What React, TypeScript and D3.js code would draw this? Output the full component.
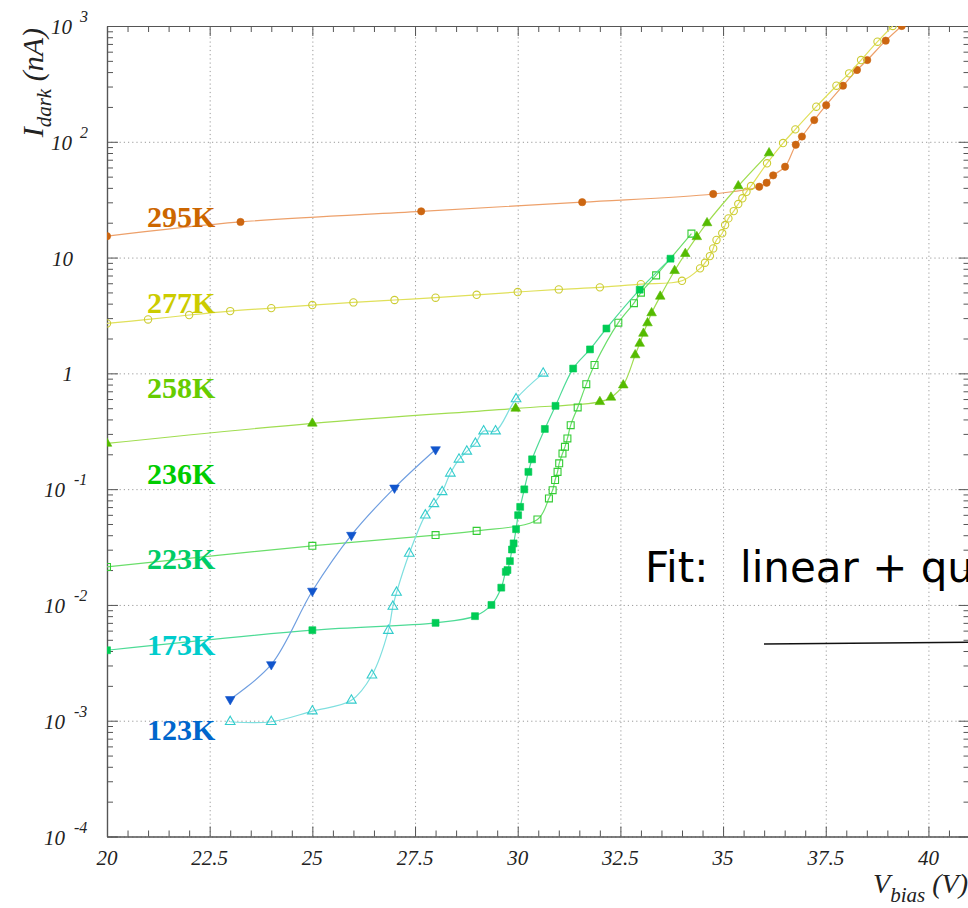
import React, { useEffect, useRef } from "react"
import * as d3 from "d3"

// temperature labels, top to bottom
const temps = ["295K", "277K", "258K", "236K", "223K", "173K", "123K"]
const labelColors = ["#cc6600", "#cccc00", "#66cc00", "#00cc00", "#00cc66", "#00cccc", "#0066cc"]
const lineColors = ["#eda06a", "#e0e05a", "#a0dd50", "#6ade6a", "#4ddb96", "#7fdfdf", "#6f9ee0"]
const markerColors = ["#cc6611", "#cccc33", "#55bb00", "#33cc33", "#00cc55", "#33cccc", "#1155cc"]
const markerKinds = ["circle", "openCircle", "triangle", "openSquare", "square", "openTriangle", "downTriangle"]

// V_bias (V) and I_dark (nA) per temperature
const v295 = [20, 23.25, 27.65, 31.57, 34.76, 35.88, 36.06, 36.22, 36.51, 36.77, 36.92, 37.22, 37.51, 37.92, 38.26, 38.51, 38.96, 39.35]
const i295 = [15.3, 20.3, 25.1, 30.1, 35.4, 40.9, 44.3, 51.3, 60.9, 94.3, 111, 154, 207, 305, 417, 508, 747, 1000]

const v277 = [20, 21, 22, 23, 24, 25, 26, 27, 28, 29, 30, 31, 32, 33, 34, 34.44, 34.56, 34.68, 34.76, 34.84, 34.98, 35.05, 35.13, 35.26, 35.37, 35.47, 35.57, 35.68, 36.07, 36.46, 36.76, 37.27, 37.76, 38.07, 38.36, 38.76, 39.13]
const i277 = [2.7, 2.92, 3.19, 3.45, 3.66, 3.89, 4.1, 4.3, 4.5, 4.77, 5.04, 5.31, 5.53, 5.9, 6.3, 8.07, 9.02, 10.3, 12.0, 14.2, 16.2, 19.1, 21.8, 25.2, 29.0, 32.5, 37.0, 41.5, 65.2, 97.5, 128, 201, 305, 390, 508, 732, 1000]

const v258 = [20, 25, 29.95, 32, 32.27, 32.57, 32.86, 32.97, 33.06, 33.16, 33.26, 33.47, 33.82, 34.08, 34.36, 34.61, 35.37, 36.12]
const i258 = [0.248, 0.37, 0.498, 0.568, 0.62, 0.791, 1.44, 1.81, 2.21, 2.72, 3.32, 4.62, 7.69, 10.8, 15.1, 19.9, 41.5, 80.0]

const v236 = [20, 25, 28, 29, 30.48, 30.76, 30.85, 30.91, 30.97, 31.01, 31.09, 31.15, 31.21, 31.29, 31.46, 31.67, 31.87, 32.45, 32.83, 33.0, 33.37, 34.23]
const i236 = [0.0213, 0.0324, 0.0401, 0.0436, 0.0547, 0.0832, 0.098, 0.12, 0.141, 0.167, 0.203, 0.232, 0.274, 0.357, 0.508, 0.807, 1.18, 2.74, 4.04, 4.98, 7.02, 16.1]

const v223 = [20, 25, 28, 28.96, 29.36, 29.6, 29.71, 29.75, 29.81, 29.86, 29.9, 29.96, 30.01, 30.06, 30.16, 30.26, 30.35, 30.66, 30.92, 31.35, 31.76, 32.16, 32.97, 33.72]
const i223 = [0.00406, 0.00605, 0.007, 0.008, 0.01, 0.0141, 0.0193, 0.02, 0.0239, 0.0301, 0.034, 0.0451, 0.0596, 0.0703, 0.0996, 0.141, 0.181, 0.331, 0.524, 1.1, 1.61, 2.44, 5.28, 9.78]

const v173 = [23, 24, 25, 25.95, 26.45, 26.85, 26.96, 27.05, 27.36, 27.75, 27.96, 28.16, 28.36, 28.57, 28.76, 28.97, 29.17, 29.46, 29.96, 30.62]
const i173 = [0.00098, 0.00098, 0.00121, 0.0015, 0.00247, 0.006, 0.0097, 0.0128, 0.0278, 0.0596, 0.0746, 0.0948, 0.137, 0.181, 0.212, 0.248, 0.317, 0.317, 0.601, 1.0]

const v123 = [23, 24, 25, 25.95, 27, 28]
const i123 = [0.00153, 0.00306, 0.0132, 0.0401, 0.1026, 0.22]

const voltages = [v295, v277, v258, v236, v223, v173, v123]
const currents = [i295, i277, i258, i236, i223, i173, i123]

const xMajor = [20, 22.5, 25, 27.5, 30, 32.5, 35, 37.5, 40]
const yExponents = [-4, -3, -2, -1, 0, 1, 2, 3]

const W = 968
const H = 908
const serif = "'Liberation Serif', 'Times New Roman', serif"

const App = () => {
  const ref = useRef<SVGSVGElement>(null)

  useEffect(() => {
    document.body.style.margin = "0"
    const svg = d3.select(ref.current)
    svg.selectAll("*").remove()

    const x = d3.scaleLinear().domain([20, 41]).range([107, 969.5])
    const y = d3.scaleLog().domain([1e-4, 1e3]).range([836.5, 26])
    const [x0, x1] = x.range()
    const [y0, y1] = y.range()

    const xMinor = d3.range(20, 41.01, 0.5).filter((v) => !xMajor.includes(v))
    const yMajor = yExponents.map((e) => Math.pow(10, e))
    const yMinor: number[] = []
    yExponents.slice(0, -1).forEach((e) => {
      for (let k = 2; k <= 9; k++) yMinor.push(k * Math.pow(10, e))
    })

    svg.append("defs").append("clipPath").attr("id", "plotclip")
      .append("rect").attr("x", x0).attr("y", y1).attr("width", x1 - x0).attr("height", y0 - y1)

    // grid
    const grid = svg.append("g")
    grid.append("g").attr("transform", `translate(0,${y0})`)
      .call(d3.axisBottom(x).tickValues(xMajor).tickSize(-(y0 - y1)).tickFormat(() => ""))
    grid.append("g").attr("transform", `translate(${x0},0)`)
      .call(d3.axisLeft(y).tickValues(yMajor).tickSize(-(x1 - x0)).tickFormat(() => ""))
    grid.selectAll(".domain").remove()
    grid.selectAll("line").attr("stroke", "#9a9a9a").attr("stroke-width", 1).attr("stroke-dasharray", "1.2 3")

    // ticks on all four sides
    const axes = svg.append("g")
    const addAxis = (axis: any, tr: string) => axes.append("g").attr("transform", tr).call(axis.tickSizeOuter(0).tickFormat(() => ""))
    addAxis(d3.axisBottom(x).tickValues(xMajor).tickSize(-10), `translate(0,${y0})`)
    addAxis(d3.axisBottom(x).tickValues(xMinor).tickSize(-6), `translate(0,${y0})`)
    addAxis(d3.axisTop(x).tickValues(xMajor).tickSize(-10), `translate(0,${y1})`)
    addAxis(d3.axisTop(x).tickValues(xMinor).tickSize(-6), `translate(0,${y1})`)
    addAxis(d3.axisLeft(y).tickValues(yMajor).tickSize(-11), `translate(${x0},0)`)
    addAxis(d3.axisLeft(y).tickValues(yMinor).tickSize(-6), `translate(${x0},0)`)
    addAxis(d3.axisRight(y).tickValues(yMajor).tickSize(-11), `translate(${x1},0)`)
    addAxis(d3.axisRight(y).tickValues(yMinor).tickSize(-6), `translate(${x1},0)`)
    axes.selectAll("line").attr("stroke", "#555")
    axes.selectAll(".domain").attr("stroke", "#555").attr("stroke-width", 1.2)

    // x tick labels
    svg.append("g").selectAll("text").data(xMajor).join("text")
      .attr("x", (d) => x(d)).attr("y", 865)
      .attr("text-anchor", "middle").attr("font-family", serif).attr("font-style", "italic")
      .attr("font-size", 21).attr("fill", "#222")
      .text((d) => String(d))

    // y tick labels
    const yl = svg.append("g").attr("font-family", serif).attr("font-style", "italic").attr("fill", "#222")
    yExponents.forEach((e) => {
      const ty = y(Math.pow(10, e)) + 8
      if (e === 0 || e === 1) {
        yl.append("text").attr("x", 73).attr("y", ty).attr("text-anchor", "end").attr("font-size", 21).text(e === 0 ? "1" : "10")
      } else {
        const neg = e < 0
        yl.append("text").attr("x", neg ? 65 : 72).attr("y", ty).attr("text-anchor", "end").attr("font-size", 21).text("10")
        yl.append("text").attr("x", neg ? 74 : 80).attr("y", ty - 12).attr("font-size", 16)
          .text(neg ? "-" + Math.abs(e) : String(e))
      }
    })

    // axis titles
    const yt = svg.append("text").attr("transform", "rotate(-90)")
      .attr("x", -28).attr("y", 43).attr("text-anchor", "end")
      .attr("font-family", serif).attr("font-style", "italic").attr("font-size", 30).attr("fill", "#222")
    yt.append("tspan").text("I")
    yt.append("tspan").attr("dy", 8).attr("font-size", 21).text("dark")
    yt.append("tspan").attr("dy", -8).text(" (nA)")

    const xt = svg.append("text").attr("x", 968).attr("y", 893).attr("text-anchor", "end")
      .attr("font-family", serif).attr("font-style", "italic").attr("font-size", 28).attr("fill", "#222")
    xt.append("tspan").text("V")
    xt.append("tspan").attr("dy", 9).attr("font-size", 21).text("bias")
    xt.append("tspan").attr("dy", -9).text(" (V)")

    // curves and markers
    const plot = svg.append("g").attr("clip-path", "url(#plotclip)")
    const line = d3.line<[number, number]>()
      .x((d) => x(d[0])).y((d) => y(d[1]))
      .curve(d3.curveCatmullRom.alpha(0.5))

    temps.forEach((t, si) => {
      const pts: [number, number][] = voltages[si].map((v, j) => [v, currents[si][j]])
      plot.append("path").datum(pts).attr("d", line)
        .attr("fill", "none").attr("stroke", lineColors[si]).attr("stroke-width", 1.2)

      const kind = markerKinds[si]
      const open = kind.startsWith("open")
      let type = d3.symbolCircle
      let size = 42
      if (kind.toLowerCase().includes("square")) { type = d3.symbolSquare; size = 48 }
      if (kind.toLowerCase().includes("triangle")) { type = d3.symbolTriangle; size = 40 }
      const rot = kind === "downTriangle" ? 180 : 0
      const sym = d3.symbol().type(type).size(size)
      plot.append("g").selectAll("path").data(pts).join("path")
        .attr("d", sym as any)
        .attr("transform", (d) => `translate(${x(d[0])},${y(d[1])}) rotate(${rot})`)
        .attr("fill", open ? "none" : markerColors[si])
        .attr("stroke", markerColors[si]).attr("stroke-width", open ? 1.1 : 0.6)
    })

    // temperature labels
    svg.append("g").selectAll("text").data(temps).join("text")
      .attr("x", 147).attr("y", (d, i) => 227 + i * 85.5)
      .attr("font-family", serif).attr("font-weight", "bold").attr("font-size", 30)
      .attr("fill", (d, i) => labelColors[i])
      .text((d) => d)

    // fit annotation (runs past the right edge, as in the source figure)
    const fit = svg.append("text").attr("y", 582)
      .attr("font-family", "'DejaVu Sans', sans-serif").attr("font-size", 42).attr("fill", "#000")
    fit.append("tspan").attr("x", 645).text("Fit:")
    fit.append("tspan").attr("x", 740).text("linear + quadratic")
    svg.append("line").attr("x1", 764).attr("y1", 644).attr("x2", 990).attr("y2", 642)
      .attr("stroke", "#111").attr("stroke-width", 1.4)
  }, [])

  return <svg ref={ref} width={W} height={H} style={{ display: "block", background: "#fff" }} />
}

export default App
